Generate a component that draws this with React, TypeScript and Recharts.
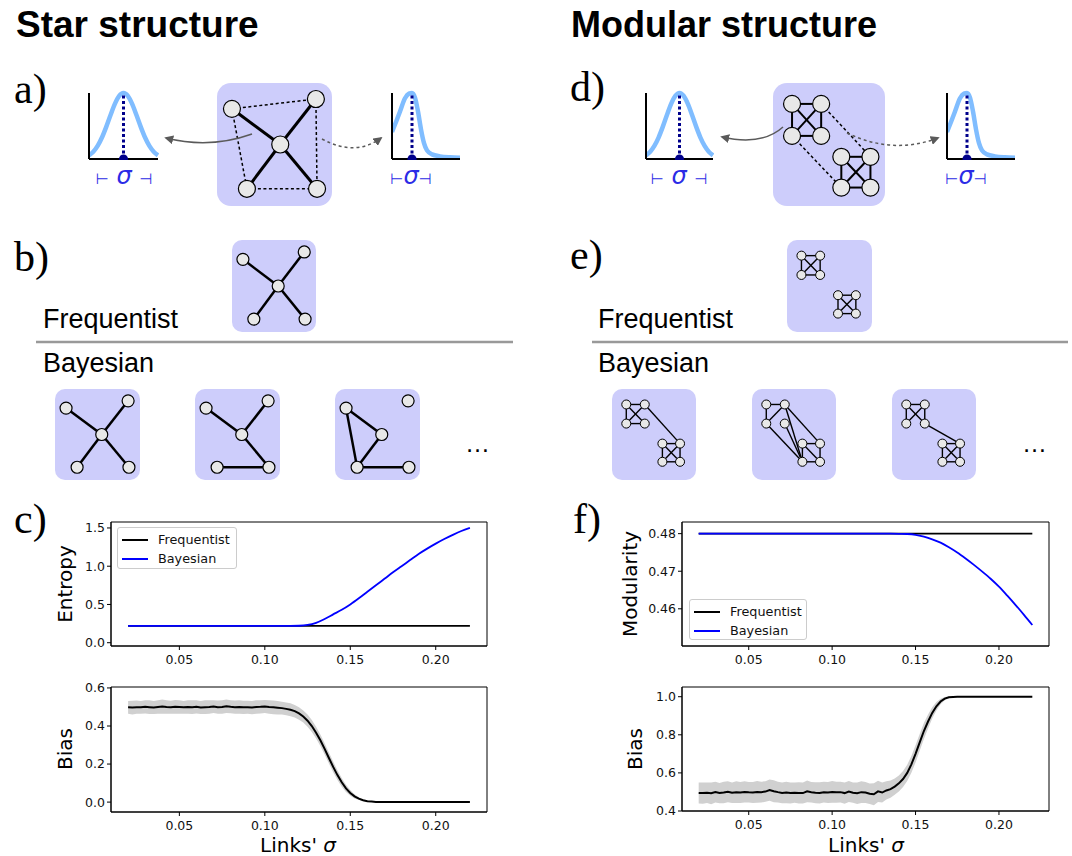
import React from 'react';
import {
  LineChart, Line, XAxis, YAxis, ReferenceLine, ReferenceDot, ReferenceArea,
  ScatterChart, Scatter, ComposedChart, Area,
} from 'recharts';

// ---------- sigma grids ----------
const sigma = [
  0.02, 0.025, 0.03, 0.035, 0.04, 0.045, 0.05, 0.055, 0.06, 0.065,
  0.07, 0.075, 0.08, 0.085, 0.09, 0.095, 0.1, 0.105, 0.11, 0.115,
  0.12, 0.125, 0.13, 0.135, 0.14, 0.145, 0.15, 0.155, 0.16, 0.165,
  0.17, 0.175, 0.18, 0.185, 0.19, 0.195, 0.2, 0.205, 0.21, 0.215, 0.22,
];

const sigmaFine = [
  0.02, 0.0225, 0.025, 0.0275, 0.03, 0.0325, 0.035, 0.0375, 0.04, 0.0425,
  0.045, 0.0475, 0.05, 0.0525, 0.055, 0.0575, 0.06, 0.0625, 0.065, 0.0675,
  0.07, 0.0725, 0.075, 0.0775, 0.08, 0.0825, 0.085, 0.0875, 0.09, 0.0925,
  0.095, 0.0975, 0.1, 0.1025, 0.105, 0.1075, 0.11, 0.1125, 0.115, 0.1175,
  0.12, 0.1225, 0.125, 0.1275, 0.13, 0.1325, 0.135, 0.1375, 0.14, 0.1425,
  0.145, 0.1475, 0.15, 0.1525, 0.155, 0.1575, 0.16, 0.1625, 0.165, 0.1675,
  0.17, 0.1725, 0.175, 0.1775, 0.18, 0.1825, 0.185, 0.1875, 0.19, 0.1925,
  0.195, 0.1975, 0.2, 0.2025, 0.205, 0.2075, 0.21, 0.2125, 0.215, 0.2175, 0.22,
];

// ---------- c) entropy ----------
const entropyFreq = [
  0.22, 0.22, 0.22, 0.22, 0.22, 0.22, 0.22, 0.22, 0.22, 0.22,
  0.22, 0.22, 0.22, 0.22, 0.22, 0.22, 0.22, 0.22, 0.22, 0.22,
  0.22, 0.22, 0.22, 0.22, 0.22, 0.22, 0.22, 0.22, 0.22, 0.22,
  0.22, 0.22, 0.22, 0.22, 0.22, 0.22, 0.22, 0.22, 0.22, 0.22, 0.22,
];
const entropyBayes = [
  0.22, 0.22, 0.22, 0.22, 0.22, 0.22, 0.22, 0.22, 0.22, 0.22,
  0.22, 0.22, 0.22, 0.22, 0.22, 0.22, 0.22, 0.22, 0.22, 0.22,
  0.222, 0.232, 0.26, 0.31, 0.37, 0.43, 0.5, 0.58, 0.665, 0.75,
  0.835, 0.92, 1.0, 1.08, 1.16, 1.23, 1.295, 1.355, 1.41, 1.46, 1.5,
];
const entropyTicks = [0, 0.5, 1.0, 1.5];

// ---------- c) bias (star) ----------
const biasStar = [
  0.498, 0.497, 0.499, 0.498, 0.501, 0.499, 0.497, 0.5, 0.502, 0.5,
  0.499, 0.501, 0.5, 0.498, 0.5, 0.499, 0.501, 0.497, 0.499, 0.5,
  0.502, 0.499, 0.5, 0.504, 0.501, 0.499, 0.5, 0.498, 0.499, 0.497,
  0.5, 0.501, 0.503, 0.5, 0.498, 0.496, 0.494, 0.49, 0.485, 0.478,
  0.466, 0.45, 0.428, 0.4, 0.365, 0.325, 0.28, 0.232, 0.185, 0.142,
  0.104, 0.072, 0.048, 0.03, 0.018, 0.01, 0.005, 0.003, 0.001, 0,
  0, 0, 0, 0, 0, 0, 0, 0, 0, 0,
  0, 0, 0, 0, 0, 0, 0, 0, 0, 0, 0,
];
const spreadStar = [
  0.034, 0.036, 0.035, 0.033, 0.035, 0.036, 0.034, 0.035, 0.037, 0.035,
  0.034, 0.036, 0.035, 0.034, 0.035, 0.036, 0.035, 0.034, 0.036, 0.035,
  0.034, 0.035, 0.036, 0.035, 0.034, 0.035, 0.036, 0.035, 0.034, 0.035,
  0.036, 0.035, 0.034, 0.035, 0.036, 0.035, 0.034, 0.034, 0.034, 0.033,
  0.033, 0.032, 0.032, 0.031, 0.031, 0.03, 0.03, 0.029, 0.028, 0.026,
  0.023, 0.019, 0.015, 0.011, 0.007, 0.004, 0.002, 0.001, 0, 0,
  0, 0, 0, 0, 0, 0, 0, 0, 0, 0,
  0, 0, 0, 0, 0, 0, 0, 0, 0, 0, 0,
];
const biasStarTicks = [0, 0.2, 0.4, 0.6];

// ---------- f) modularity ----------
const modFreq = [
  0.48, 0.48, 0.48, 0.48, 0.48, 0.48, 0.48, 0.48, 0.48, 0.48,
  0.48, 0.48, 0.48, 0.48, 0.48, 0.48, 0.48, 0.48, 0.48, 0.48,
  0.48, 0.48, 0.48, 0.48, 0.48, 0.48, 0.48, 0.48, 0.48, 0.48,
  0.48, 0.48, 0.48, 0.48, 0.48, 0.48, 0.48, 0.48, 0.48, 0.48, 0.48,
];
const modBayes = [
  0.48, 0.48, 0.48, 0.48, 0.48, 0.48, 0.48, 0.48, 0.48, 0.48,
  0.48, 0.48, 0.48, 0.48, 0.48, 0.48, 0.48, 0.48, 0.48, 0.48,
  0.48, 0.48, 0.48, 0.47999, 0.47995, 0.4799, 0.4797, 0.4792, 0.4785, 0.4776,
  0.4764, 0.475, 0.4734, 0.4717, 0.4699, 0.468, 0.4659, 0.4635, 0.461, 0.4584, 0.4557,
];
const modTicks = [0.46, 0.47, 0.48];

// ---------- f) bias (modular) ----------
const biasMod = [
  0.495, 0.494, 0.496, 0.493, 0.499, 0.494, 0.497, 0.501, 0.496, 0.499,
  0.497, 0.5, 0.498, 0.497, 0.5, 0.499, 0.502, 0.51, 0.504, 0.499,
  0.495, 0.497, 0.494, 0.496, 0.495, 0.494, 0.503, 0.498, 0.496, 0.495,
  0.499, 0.497, 0.5, 0.498, 0.499, 0.494, 0.502, 0.496, 0.493, 0.499,
  0.497, 0.491, 0.488, 0.503, 0.497, 0.508, 0.515, 0.528, 0.545, 0.568,
  0.6, 0.645, 0.7, 0.76, 0.82, 0.87, 0.915, 0.95, 0.975, 0.99,
  0.997, 0.999, 1.0, 1.0, 1.0, 1.0, 1.0, 1.0, 1.0, 1.0,
  1.0, 1.0, 1.0, 1.0, 1.0, 1.0, 1.0, 1.0, 1.0, 1.0, 1.0,
];
const spreadMod = [
  0.055, 0.056, 0.054, 0.057, 0.055, 0.053, 0.056, 0.055, 0.054, 0.057,
  0.055, 0.056, 0.054, 0.055, 0.057, 0.055, 0.054, 0.056, 0.058, 0.055,
  0.054, 0.056, 0.055, 0.053, 0.056, 0.055, 0.057, 0.054, 0.055, 0.056,
  0.054, 0.055, 0.057, 0.055, 0.054, 0.056, 0.055, 0.053, 0.056, 0.057,
  0.055, 0.054, 0.058, 0.056, 0.052, 0.048, 0.045, 0.043, 0.042, 0.042,
  0.043, 0.044, 0.045, 0.044, 0.042, 0.037, 0.03, 0.022, 0.014, 0.008,
  0.004, 0.002, 0.001, 0, 0, 0, 0, 0, 0, 0,
  0, 0, 0, 0, 0, 0, 0, 0, 0, 0, 0,
];
const biasModTicks = [0.4, 0.6, 0.8, 1.0];

const sigmaTicks = [0.05, 0.1, 0.15, 0.2];
const seriesNames = ['Frequentist', 'Bayesian'];

// ---------- link-weight distributions ----------
const gaussX = [-2.4, -2.1, -1.8, -1.5, -1.2, -0.9, -0.6, -0.3, 0, 0.3, 0.6, 0.9, 1.2, 1.5, 1.8, 2.1, 2.4];
const gaussY = [0.056, 0.11, 0.198, 0.325, 0.487, 0.667, 0.835, 0.956, 1, 0.956, 0.835, 0.667, 0.487, 0.325, 0.198, 0.11, 0.056];
const skewX = [0, 4, 8, 13, 17, 20, 23, 26, 29, 32, 35, 40, 48, 58, 68];
const skewY = [0.41, 0.56, 0.72, 0.92, 0.99, 1.0, 0.93, 0.72, 0.45, 0.24, 0.13, 0.07, 0.04, 0.025, 0.02];

// ---------- network layouts (0..100 layout units) ----------
const starLayout = [[13, 21], [86, 13], [55, 50], [26, 86], [87, 86]];
const starEdges = [[2, 0], [2, 1], [2, 3], [2, 4]];
const starWeakEdges = [[0, 1], [0, 3], [1, 4], [3, 4]];
const starSample2 = [[2, 0], [2, 1], [2, 4], [3, 4]];
const starSample3 = [[0, 2], [0, 3], [2, 3], [3, 4]];

const modLayoutBig = [[17, 17], [43, 17], [17, 43], [43, 43], [61, 60], [87, 60], [61, 85], [87, 85]];
const modLayoutSmall = [[17, 17], [39, 17], [17, 38], [39, 38], [60, 60], [81, 60], [60, 80], [81, 80]];
const modEdges = [[0, 1], [0, 2], [1, 3], [2, 3], [0, 3], [1, 2], [4, 5], [4, 6], [5, 7], [6, 7], [4, 7], [5, 6]];
const modWeakEdges = [[1, 5], [2, 6]];
const modSample1 = [[0, 1], [0, 2], [0, 3], [1, 2], [2, 3], [4, 5], [4, 6], [5, 7], [6, 7], [4, 7], [5, 6], [1, 5]];
const modSample2 = [[0, 1], [0, 2], [1, 2], [1, 5], [1, 6], [2, 6], [3, 6], [4, 5], [4, 6], [5, 7], [6, 7], [4, 7]];
const modSample3 = [[0, 1], [0, 2], [1, 3], [0, 3], [1, 2], [4, 5], [4, 6], [5, 7], [6, 7], [4, 7], [5, 6], [3, 5]];

// ---------- styles ----------
const BOX = '#cdcdfb';
const NODE = '#e8e8e8';
const BLUE_CURVE = '#80bdff';
const DARK = '#00008b';
const SIGMA_BLUE = '#2b2be6';
const tickStyle = { fontFamily: 'DejaVu Sans', fontSize: 12.5, fill: '#111' };
const chartFont = 'DejaVu Sans';

const entropyRows = sigma.map((s, i) => ({ s, freq: entropyFreq[i], bayes: entropyBayes[i] }));
const modRows = sigma.map((s, i) => ({ s, freq: modFreq[i], bayes: modBayes[i] }));
const biasStarRows = sigmaFine.map((s, i) => ({ s, bias: biasStar[i], band: [biasStar[i] - spreadStar[i], biasStar[i] + spreadStar[i]] }));
const biasModRows = sigmaFine.map((s, i) => ({ s, bias: biasMod[i], band: [biasMod[i] - spreadMod[i], biasMod[i] + spreadMod[i]] }));
const gaussRows = gaussX.map((x, i) => ({ x, y: gaussY[i] }));
const skewRows = skewX.map((x, i) => ({ x, y: skewY[i] }));

// ---------- network box ----------
type NetProps = {
  left: number; top: number; w: number; h: number; radius: number;
  layout: number[][]; solid: number[][]; dashed?: number[][];
  r: number; solidW: number; dashW?: number; nodeW?: number;
};

function NetworkBox({ left, top, w, h, radius, layout, solid, dashed = [], r, solidW, dashW = 1.5, nodeW = 1.2 }: NetProps) {
  const pts = layout.map(([x, y]) => ({ x, y }));
  const blank = () => <g />;
  return (
    <div style={{ position: 'absolute', left, top, width: w, height: h, background: BOX, borderRadius: radius }}>
      <ScatterChart width={w} height={h} margin={{ top: 0, right: 0, bottom: 0, left: 0 }}>
        <XAxis type="number" dataKey="x" domain={[0, 100]} hide />
        <YAxis type="number" dataKey="y" domain={[0, 100]} reversed hide />
        {dashed.map(([a, b], i) => (
          <Scatter key={'d' + i} data={[pts[a], pts[b]]} shape={blank} isAnimationActive={false}
            line={{ stroke: '#000', strokeWidth: dashW, strokeDasharray: '3 2.5' }} />
        ))}
        {solid.map(([a, b], i) => (
          <Scatter key={'s' + i} data={[pts[a], pts[b]]} shape={blank} isAnimationActive={false}
            line={{ stroke: '#000', strokeWidth: solidW }} />
        ))}
        <Scatter data={pts} isAnimationActive={false}
          shape={(p: any) => <circle cx={p.cx} cy={p.cy} r={r} fill={NODE} stroke="#000" strokeWidth={nodeW} />} />
      </ScatterChart>
    </div>
  );
}

// ---------- distribution sketch ----------
function DistPlot({ left, top, width, height, rows, peak }: { left: number; top: number; width: number; height: number; rows: { x: number; y: number }[]; peak: number }) {
  const xs = rows.map((d) => d.x);
  return (
    <div style={{ position: 'absolute', left, top }}>
      <LineChart width={width} height={height} data={rows} margin={{ top: 4, right: 1, bottom: 0, left: 0 }}>
        <XAxis type="number" dataKey="x" domain={[Math.min(...xs), Math.max(...xs)]} tick={false} tickLine={false} height={1} axisLine={{ stroke: '#000', strokeWidth: 2 }} />
        <YAxis type="number" domain={[0, 1]} tick={false} tickLine={false} width={1} axisLine={{ stroke: '#000', strokeWidth: 2 }} />
        <Line dataKey="y" type="monotone" stroke={BLUE_CURVE} strokeWidth={4.5} dot={false} isAnimationActive={false} />
        <ReferenceLine segment={[{ x: peak, y: 0 }, { x: peak, y: 1 }]} stroke={DARK} strokeWidth={3} strokeDasharray="3 2.5" ifOverflow="visible" />
        <ReferenceDot x={peak} y={0} r={4.5} fill={DARK} stroke="none" ifOverflow="visible" />
      </LineChart>
    </div>
  );
}

// ---------- legend ----------
function LegendBox({ left, top, width, height }: { left: number; top: number; width: number; height: number }) {
  const colors = ['#000', '#0000ff'];
  return (
    <div style={{
      position: 'absolute', left, top, width, height, boxSizing: 'border-box',
      border: '1px solid #cccccc', borderRadius: 3, background: 'rgba(255,255,255,0.85)',
      fontFamily: chartFont, fontSize: 12.8, color: '#111', paddingTop: 2,
    }}>
      {seriesNames.map((n, i) => (
        <div key={n} style={{ display: 'flex', alignItems: 'center', height: 19 }}>
          <div style={{ width: 26, height: 2, background: colors[i], marginLeft: 4, marginRight: 10 }} />
          <span>{n}</span>
        </div>
      ))}
    </div>
  );
}

const xAxisCommon = {
  type: 'number' as const, dataKey: 's', domain: [0.01, 0.23], ticks: sigmaTicks,
  tickFormatter: (v: number) => v.toFixed(2), tick: tickStyle, tickSize: 4, tickMargin: 5,
  axisLine: { stroke: '#000' }, tickLine: { stroke: '#000' }, allowDataOverflow: true,
};

function Frame({ y1, y2 }: { y1: number; y2: number }) {
  return <ReferenceArea x1={0.01} x2={0.23} y1={y1} y2={y2} fill="none" stroke="#000" strokeWidth={1} ifOverflow="visible" />;
}

export default function App() {
  const txt = { fontFamily: 'Liberation Sans', fill: '#000' } as const;
  const serif = { fontFamily: 'Liberation Serif', fill: '#000', fontSize: 42 } as const;
  return (
    <div style={{ position: 'absolute', left: 0, top: 0, width: 1072, height: 856, background: '#fff', overflow: 'hidden' }}>
      {/* a) / d) weighted networks */}
      <NetworkBox left={217} top={83} w={115} h={123} radius={14} layout={starLayout} solid={starEdges} dashed={starWeakEdges} r={8.5} solidW={3} dashW={1.5} />
      <NetworkBox left={773} top={83} w={112} h={123} radius={14} layout={modLayoutBig} solid={modEdges} dashed={modWeakEdges} r={8.5} solidW={2} dashW={1.5} />

      <DistPlot left={88} top={89} width={71} height={71} rows={gaussRows} peak={0} />
      <DistPlot left={391} top={89} width={70} height={71} rows={skewRows} peak={20} />
      <DistPlot left={645} top={89} width={69} height={71} rows={gaussRows} peak={0} />
      <DistPlot left={946} top={89} width={70} height={71} rows={skewRows} peak={20} />

      {/* b) star estimates */}
      <NetworkBox left={232} top={240} w={84} h={92} radius={10} layout={starLayout} solid={starEdges} r={6} solidW={2.5} />
      <NetworkBox left={55} top={389} w={85} h={91} radius={10} layout={starLayout} solid={starEdges} r={6} solidW={2.5} />
      <NetworkBox left={195} top={389} w={85} h={91} radius={10} layout={starLayout} solid={starSample2} r={6} solidW={2.5} />
      <NetworkBox left={335} top={389} w={85} h={91} radius={10} layout={starLayout} solid={starSample3} r={6} solidW={2.5} />

      {/* e) modular estimates */}
      <NetworkBox left={787} top={240} w={85} h={92} radius={10} layout={modLayoutSmall} solid={modEdges} r={4.5} solidW={1.4} nodeW={1} />
      <NetworkBox left={612} top={389} w={84} h={91} radius={10} layout={modLayoutSmall} solid={modSample1} r={4.5} solidW={1.4} nodeW={1} />
      <NetworkBox left={752} top={389} w={84} h={91} radius={10} layout={modLayoutSmall} solid={modSample2} r={4.5} solidW={1.4} nodeW={1} />
      <NetworkBox left={892} top={389} w={84} h={91} radius={10} layout={modLayoutSmall} solid={modSample3} r={4.5} solidW={1.4} nodeW={1} />

      {/* c) entropy */}
      <div style={{ position: 'absolute', left: 40, top: 510 }}>
        <LineChart width={460} height={160} data={entropyRows} margin={{ top: 12, right: 13, bottom: 0, left: 31 }}>
          <XAxis {...xAxisCommon} height={24} />
          <YAxis type="number" domain={[-0.043, 1.578]} ticks={entropyTicks} tickFormatter={(v: number) => v.toFixed(1)}
            width={40} tick={tickStyle} tickSize={4} tickMargin={2} axisLine={{ stroke: '#000' }} tickLine={{ stroke: '#000' }} allowDataOverflow />
          <Line dataKey="freq" type="monotone" stroke="#000" strokeWidth={1.8} dot={false} isAnimationActive={false} />
          <Line dataKey="bayes" type="monotone" stroke="#0000ff" strokeWidth={1.8} dot={false} isAnimationActive={false} />
          <Frame y1={-0.043} y2={1.578} />
        </LineChart>
      </div>
      <LegendBox left={117} top={527} width={120} height={42} />

      {/* c) bias */}
      <div style={{ position: 'absolute', left: 40, top: 675 }}>
        <ComposedChart width={460} height={160} data={biasStarRows} margin={{ top: 12, right: 13, bottom: 0, left: 31 }}>
          <XAxis {...xAxisCommon} height={23} />
          <YAxis type="number" domain={[-0.052, 0.605]} ticks={biasStarTicks} tickFormatter={(v: number) => v.toFixed(1)}
            width={40} tick={tickStyle} tickSize={4} tickMargin={2} axisLine={{ stroke: '#000' }} tickLine={{ stroke: '#000' }} allowDataOverflow />
          <Area dataKey="band" stroke="none" fill="#d0d0d0" fillOpacity={1} isAnimationActive={false} />
          <Line dataKey="bias" stroke="#000" strokeWidth={2} dot={false} isAnimationActive={false} />
          <Frame y1={-0.052} y2={0.605} />
        </ComposedChart>
      </div>

      {/* f) modularity */}
      <div style={{ position: 'absolute', left: 600, top: 510 }}>
        <LineChart width={460} height={160} data={modRows} margin={{ top: 12, right: 11, bottom: 0, left: 42 }}>
          <XAxis {...xAxisCommon} height={24} />
          <YAxis type="number" domain={[0.4501, 0.4831]} ticks={modTicks} tickFormatter={(v: number) => v.toFixed(2)}
            width={40} tick={tickStyle} tickSize={4} tickMargin={2} axisLine={{ stroke: '#000' }} tickLine={{ stroke: '#000' }} allowDataOverflow />
          <Line dataKey="freq" type="monotone" stroke="#000" strokeWidth={1.8} dot={false} isAnimationActive={false} />
          <Line dataKey="bayes" type="monotone" stroke="#0000ff" strokeWidth={1.8} dot={false} isAnimationActive={false} />
          <Frame y1={0.4501} y2={0.4831} />
        </LineChart>
      </div>
      <LegendBox left={689} top={599} width={118} height={41} />

      {/* f) bias */}
      <div style={{ position: 'absolute', left: 600, top: 675 }}>
        <ComposedChart width={460} height={160} data={biasModRows} margin={{ top: 12, right: 11, bottom: 0, left: 42 }}>
          <XAxis {...xAxisCommon} height={24} />
          <YAxis type="number" domain={[0.4, 1.051]} ticks={biasModTicks} tickFormatter={(v: number) => v.toFixed(1)}
            width={40} tick={tickStyle} tickSize={4} tickMargin={2} axisLine={{ stroke: '#000' }} tickLine={{ stroke: '#000' }} allowDataOverflow />
          <Area dataKey="band" stroke="none" fill="#d0d0d0" fillOpacity={1} isAnimationActive={false} />
          <Line dataKey="bias" stroke="#000" strokeWidth={2} dot={false} isAnimationActive={false} />
          <Frame y1={0.4} y2={1.051} />
        </ComposedChart>
      </div>

      {/* titles, panel letters, labels and arrows */}
      <svg width={1072} height={856} style={{ position: 'absolute', left: 0, top: 0, pointerEvents: 'none' }}>
        <defs>
          <marker id="tip" viewBox="0 0 10 10" refX="8" refY="5" markerWidth="6" markerHeight="6" orient="auto" markerUnits="strokeWidth">
            <path d="M0,0 L10,5 L0,10 z" fill="#5a5a5a" />
          </marker>
        </defs>
        <text x={16} y={37} fontSize={37} fontWeight="bold" {...txt}>Star structure</text>
        <text x={571} y={37} fontSize={36} fontWeight="bold" {...txt}>Modular structure</text>

        <text x={14} y={103} {...serif}>a)</text>
        <text x={14} y={271} {...serif}>b)</text>
        <text x={14} y={533} {...serif}>c)</text>
        <text x={570} y={101} {...serif}>d)</text>
        <text x={570} y={269} {...serif}>e)</text>
        <text x={573} y={533} {...serif}>f)</text>

        <path d="M 252 134 Q 210 149 166 138" fill="none" stroke="#5a5a5a" strokeWidth={1.5} markerEnd="url(#tip)" />
        <path d="M 322 139 Q 355 157 381 138" fill="none" stroke="#5a5a5a" strokeWidth={1.5} strokeDasharray="3 3" markerEnd="url(#tip)" />
        <path d="M 783 127 Q 762 146 722 137" fill="none" stroke="#5a5a5a" strokeWidth={1.5} markerEnd="url(#tip)" />
        <path d="M 847 133 Q 893 155 938 138" fill="none" stroke="#5a5a5a" strokeWidth={1.5} strokeDasharray="3 3" markerEnd="url(#tip)" />

        {[124, 679].map((cx) => (
          <text key={cx} x={cx} y={184} textAnchor="middle" fontFamily="DejaVu Sans" fill={SIGMA_BLUE}>
            <tspan fontSize={15}>⊢</tspan>
            <tspan fontSize={24} fontStyle="italic"> σ </tspan>
            <tspan fontSize={15}>⊣</tspan>
          </text>
        ))}
        {[411, 966].map((cx) => (
          <text key={cx} x={cx} y={184} textAnchor="middle" fontFamily="DejaVu Sans" fill={SIGMA_BLUE}>
            <tspan fontSize={15}>⊢</tspan>
            <tspan fontSize={24} fontStyle="italic">σ</tspan>
            <tspan fontSize={15}>⊣</tspan>
          </text>
        ))}

        <text x={43} y={328} fontSize={27} {...txt}>Frequentist</text>
        <text x={43} y={372} fontSize={27} {...txt}>Bayesian</text>
        <line x1={36} y1={342} x2={513} y2={342} stroke="#999" strokeWidth={2.5} />
        <text x={598} y={328} fontSize={27} {...txt}>Frequentist</text>
        <text x={598} y={372} fontSize={27} {...txt}>Bayesian</text>
        <line x1={592} y1={342} x2={1068} y2={342} stroke="#999" strokeWidth={2.5} />
        <text x={465} y={452} fontSize={25} {...txt}>…</text>
        <text x={1022} y={452} fontSize={25} {...txt}>…</text>

        <text transform="translate(72,584) rotate(-90)" textAnchor="middle" fontSize={20} fontFamily={chartFont}>Entropy</text>
        <text transform="translate(72,749) rotate(-90)" textAnchor="middle" fontSize={20} fontFamily={chartFont}>Bias</text>
        <text transform="translate(637,584) rotate(-90)" textAnchor="middle" fontSize={20} fontFamily={chartFont}>Modularity</text>
        <text transform="translate(642,749) rotate(-90)" textAnchor="middle" fontSize={20} fontFamily={chartFont}>Bias</text>
        <text x={298} y={852} textAnchor="middle" fontSize={20} fontFamily={chartFont}>Links' <tspan fontStyle="italic">σ</tspan></text>
        <text x={866} y={852} textAnchor="middle" fontSize={20} fontFamily={chartFont}>Links' <tspan fontStyle="italic">σ</tspan></text>
      </svg>
    </div>
  );
}
